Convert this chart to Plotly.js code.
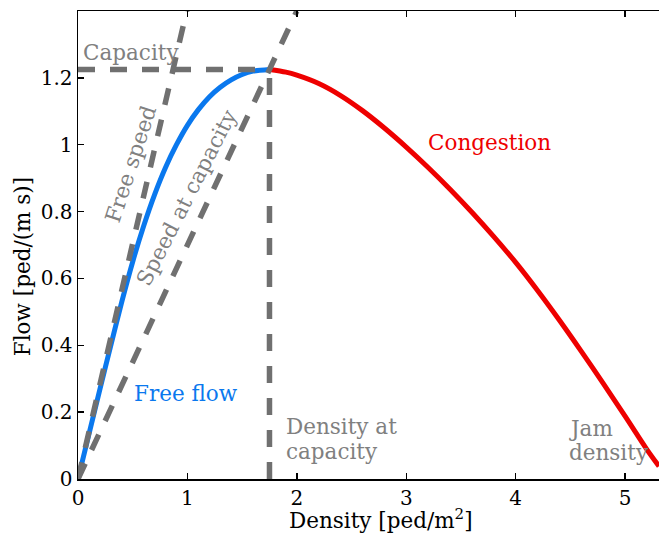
<!DOCTYPE html>
<html>
<head>
<meta charset="utf-8">
<script src="https://cdn.plot.ly/plotly-3.0.1.min.js"></script>
<style>
  html, body { margin: 0; padding: 0; background: #fff; }
  #chart { width: 659px; height: 534px; }
</style>
</head>
<body>
<div id="chart"></div>
<script>
// Fundamental diagram of pedestrian flow: flow vs. density.
// Free-flow branch (up to capacity)
const densityFree = [0, 0.1, 0.2, 0.3, 0.4, 0.5, 0.6, 0.7, 0.8, 0.9, 1.0, 1.1, 1.2, 1.3, 1.4, 1.5, 1.6, 1.75];
const flowFree    = [0, 0.134, 0.268, 0.40, 0.53, 0.65, 0.757, 0.851, 0.932, 1.0, 1.058, 1.105, 1.143, 1.172, 1.194, 1.21, 1.22, 1.225];

// Congested branch (capacity to jam density)
const densityCong = [1.75, 1.9, 2.0, 2.2, 2.4, 2.6, 2.8, 3.0, 3.2, 3.4, 3.6, 3.8, 4.0, 4.2, 4.4, 4.6, 4.8, 5.0, 5.2, 5.31];
const flowCong    = [1.225, 1.217, 1.208, 1.183, 1.147, 1.102, 1.050, 0.993, 0.932, 0.867, 0.798, 0.725, 0.648, 0.564, 0.475, 0.382, 0.286, 0.188, 0.088, 0.038];

// Capacity point
const capDensity = 1.75;
const capFlow = 1.225;

// Reference speed lines through the origin
const freeSpeedDensity = [0, 1.0];
const freeSpeedFlow    = [0, 1.41];
const capSpeedDensity  = [0, 2.0];
const capSpeedFlow     = [0, 1.4];

// Axis ticks
const xTicks = [0, 1, 2, 3, 4, 5];
const yTicks = [0, 0.2, 0.4, 0.6, 0.8, 1.0, 1.2];

const FONT = "DejaVu Serif";
const FS = 21.5;
const TICK_FS = 20;
const GRAY_LINE = "#707070";
const GRAY_TEXT = "#808080";
const BLUE = "#0a78ee";
const RED = "#ee0000";
const DASH = "17px,15px";

const traces = [
  {
    x: densityFree, y: flowFree, mode: "lines",
    line: { color: BLUE, width: 5, shape: "spline", smoothing: 0.8 },
    hoverinfo: "skip", showlegend: false
  },
  {
    x: densityCong, y: flowCong, mode: "lines",
    line: { color: RED, width: 5, shape: "spline", smoothing: 0.8 },
    hoverinfo: "skip", showlegend: false
  },
  {
    x: [0, capDensity], y: [capFlow, capFlow], mode: "lines",
    line: { color: GRAY_LINE, width: 5.5, dash: DASH },
    hoverinfo: "skip", showlegend: false
  },
  {
    x: [capDensity, capDensity], y: [0, capFlow], mode: "lines",
    line: { color: GRAY_LINE, width: 5.5, dash: DASH },
    hoverinfo: "skip", showlegend: false
  },
  {
    x: freeSpeedDensity, y: freeSpeedFlow, mode: "lines",
    line: { color: GRAY_LINE, width: 5.5, dash: DASH },
    hoverinfo: "skip", showlegend: false
  },
  {
    x: capSpeedDensity, y: capSpeedFlow, mode: "lines",
    line: { color: GRAY_LINE, width: 5.5, dash: DASH },
    hoverinfo: "skip", showlegend: false
  }
];

function label(text, x, y, color, extra) {
  return Object.assign({
    text: text, x: x, y: y, xref: "x", yref: "y",
    showarrow: false, font: { family: FONT, size: FS, color: color },
    xanchor: "center", yanchor: "middle"
  }, extra || {});
}

const annotations = [
  label("Capacity", 0.03, 1.275, GRAY_TEXT, { xanchor: "left" }),
  label("Free speed", 0.485, 0.943, GRAY_TEXT, { textangle: -72 }),
  label("Speed at capacity", 0.99, 0.843, GRAY_TEXT, { textangle: -63 }),
  label("Free flow", 0.99, 0.257, BLUE),
  label("Congestion", 3.76, 1.007, RED),
  label("Density at", 1.88, 0.157, GRAY_TEXT, { xanchor: "left" }),
  label("capacity", 1.88, 0.0815, GRAY_TEXT, { xanchor: "left" }),
  label("Jam", 4.47, 0.152, GRAY_TEXT, { xanchor: "left" }),
  label("density", 4.47, 0.0785, GRAY_TEXT, { xanchor: "left" }),
  // Axis titles
  {
    text: "Density [ped/m<sup>2</sup>]", x: 2.77, y: -0.086,
    xref: "x", yref: "paper", showarrow: false,
    font: { family: FONT, size: FS, color: "#000" },
    xanchor: "center", yanchor: "middle"
  },
  {
    text: "Flow [ped/(m s)]", x: -0.095, y: 0.636,
    xref: "paper", yref: "y", showarrow: false, textangle: -90,
    font: { family: FONT, size: FS, color: "#000" },
    xanchor: "center", yanchor: "middle"
  }
];

const layout = {
  width: 659, height: 534,
  margin: { l: 78, r: 0, t: 11, b: 55, pad: 0 },
  paper_bgcolor: "#fff", plot_bgcolor: "#fff",
  font: { family: FONT, size: FS, color: "#000" },
  showlegend: false,
  xaxis: {
    range: [0, 5.31], tickvals: xTicks,
    showgrid: false, zeroline: false,
    showline: true, linecolor: "#000", linewidth: 1.5,
    ticks: "inside", ticklen: 6, tickwidth: 1.5, tickcolor: "#000",
    mirror: "ticks",
    tickfont: { family: FONT, size: TICK_FS, color: "#000" }
  },
  yaxis: {
    range: [0, 1.4], tickvals: yTicks,
    showgrid: false, zeroline: false,
    showline: true, linecolor: "#000", linewidth: 1.5,
    ticks: "inside", ticklen: 6, tickwidth: 1.5, tickcolor: "#000",
    tickfont: { family: FONT, size: TICK_FS, color: "#000" }
  },
  annotations: annotations
};

Plotly.newPlot("chart", traces, layout, { staticPlot: true, displayModeBar: false });
</script>
</body>
</html>
